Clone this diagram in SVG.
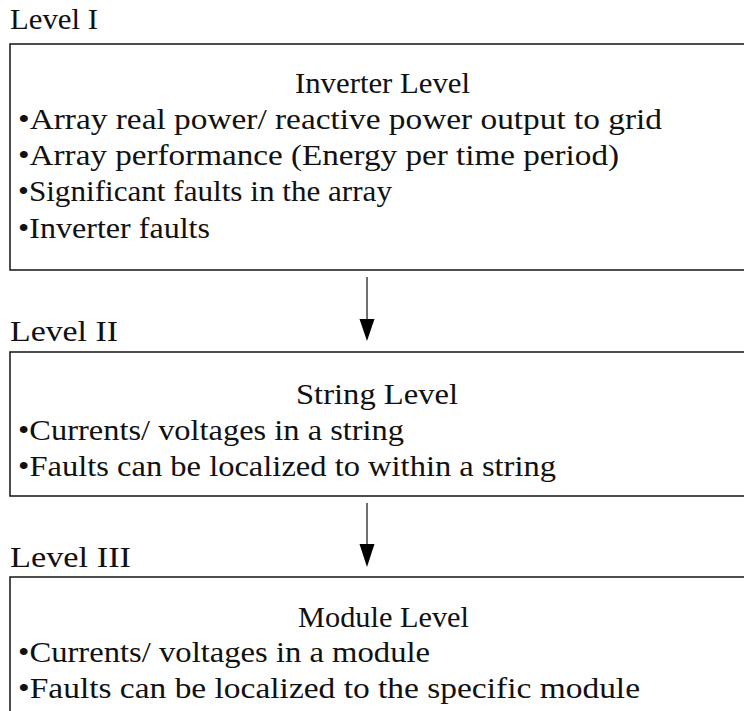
<svg xmlns="http://www.w3.org/2000/svg" width="744" height="711" viewBox="0 0 744 711">
<style>
text{font-family:"Liberation Serif","Times New Roman",serif;font-size:30px;fill:#111}
.box{fill:#fff;stroke:#222;stroke-width:1.6}
.conn{stroke:#333;stroke-width:1.4;fill:none}
.head{fill:#000}
</style>
<rect width="744" height="711" fill="#fff"/>
<g id="level1">
<text x="10" y="29" textLength="88" lengthAdjust="spacingAndGlyphs">Level I</text>
<rect class="box" x="10" y="44" width="760" height="226"/>
<text x="295" y="93" textLength="175" lengthAdjust="spacingAndGlyphs">Inverter Level</text>
<text x="18" y="129" textLength="644" lengthAdjust="spacingAndGlyphs">•Array real power/ reactive power output to grid</text>
<text x="18" y="165" textLength="601" lengthAdjust="spacingAndGlyphs">•Array performance (Energy per time period)</text>
<text x="18" y="201" textLength="374" lengthAdjust="spacingAndGlyphs">•Significant faults in the array</text>
<text x="18" y="238" textLength="192" lengthAdjust="spacingAndGlyphs">•Inverter faults</text>
</g>
<g id="level2">
<text x="10" y="341" textLength="108" lengthAdjust="spacingAndGlyphs">Level II</text>
<rect class="box" x="10" y="352" width="760" height="144"/>
<text x="296" y="404" textLength="162" lengthAdjust="spacingAndGlyphs">String Level</text>
<text x="18" y="440" textLength="386" lengthAdjust="spacingAndGlyphs">•Currents/ voltages in a string</text>
<text x="18" y="476" textLength="538" lengthAdjust="spacingAndGlyphs">•Faults can be localized to within a string</text>
</g>
<g id="level3">
<text x="10" y="567" textLength="121" lengthAdjust="spacingAndGlyphs">Level III</text>
<rect class="box" x="10" y="577" width="760" height="160"/>
<text x="298" y="627" textLength="171" lengthAdjust="spacingAndGlyphs">Module Level</text>
<text x="18" y="662" textLength="412" lengthAdjust="spacingAndGlyphs">•Currents/ voltages in a module</text>
<text x="18" y="698" textLength="622" lengthAdjust="spacingAndGlyphs">•Faults can be localized to the specific module</text>
</g>
<g id="connectors">
<line class="conn" x1="367" y1="277" x2="367" y2="322"/>
<path class="head" d="M359.5,319 L374.5,319 L367,341 Z"/>
<line class="conn" x1="367" y1="503" x2="367" y2="547"/>
<path class="head" d="M359.5,544 L374.5,544 L367,567 Z"/>
</g>
</svg>
